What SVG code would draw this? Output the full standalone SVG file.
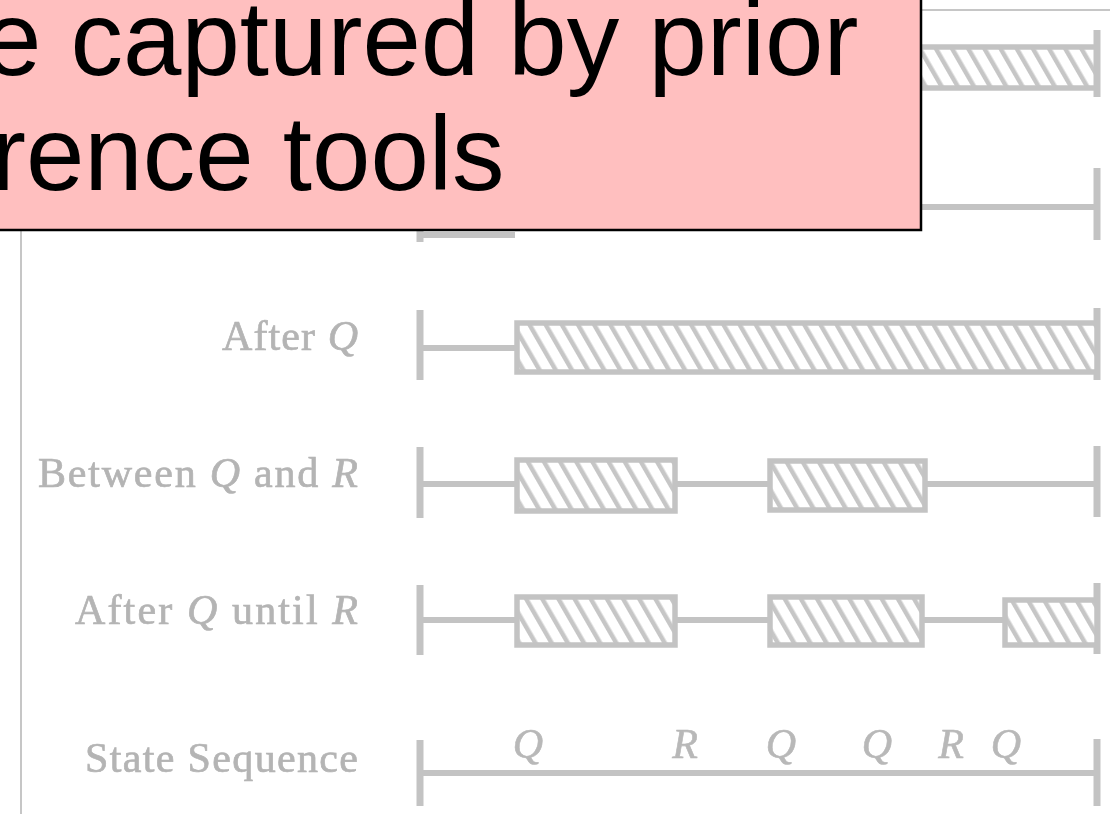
<svg xmlns="http://www.w3.org/2000/svg" width="1110" height="814" viewBox="0 0 1110 814">
  <style>
    .frame { stroke: #c6c6c6; stroke-width: 2; fill: none; }
    .line { stroke: #c3c3c3; stroke-width: 6; fill: none; }
    .cap { stroke: #c3c3c3; stroke-width: 7; fill: none; }
    .bar { fill: url(#hatch); stroke: #c3c3c3; stroke-width: 5.5; }
    .label { font-family: "Liberation Serif", "DejaVu Serif", serif; font-size: 42px; fill: #b4b4b4; stroke: #b4b4b4; stroke-width: 0.7; text-anchor: end; }
    .ev { font-family: "Liberation Serif", "DejaVu Serif", serif; font-size: 42px; font-style: italic; fill: #b8b8b8; stroke: #b8b8b8; stroke-width: 0.6; text-anchor: middle; }
    .it { font-style: italic; }
    .soft { filter: url(#soften); }
    .callout { fill: #ffbfbf; stroke: #000; stroke-width: 2.5; }
    .callout-text { font-family: "Liberation Sans", Arial, sans-serif; font-size: 105px; fill: #000; }
  </style>
  <defs>
    <pattern id="hatch" patternUnits="userSpaceOnUse" width="14" height="10" patternTransform="rotate(-30)">
      <rect x="0" y="0" width="14" height="10" fill="#ffffff"/>
      <rect x="0" y="0" width="4.5" height="10" fill="#c6c6c6"/>
    </pattern>
    <filter id="soften" x="-2%" y="-2%" width="104%" height="104%">
      <feGaussianBlur stdDeviation="0.6"/>
    </filter>
  </defs>

  <rect width="1110" height="814" fill="#ffffff"/>

  <!-- page frame -->
  <g id="frame">
    <path class="frame" d="M21 228 V814"/>
    <path class="frame" d="M920 10 H1110"/>
  </g>

  <g class="soft">
    <!-- scope rows -->
    <g id="row-global">
      <rect class="bar" x="424" y="47" width="673" height="41"/>
      <path class="cap" d="M1097 30 V97"/>
    </g>

    <g id="row-before">
      <path class="cap" d="M420 170 V242"/>
      <path class="cap" d="M1097 168 V240"/>
      <path class="line" d="M423 235 H515"/>
    </g>

    <g id="row-after">
      <text class="label" x="358" y="350" textLength="136">After <tspan class="it">Q</tspan></text>
      <path class="cap" d="M420 310 V380"/>
      <path class="cap" d="M1097 308 V380"/>
      <rect class="bar" x="517" y="323" width="580" height="49"/>
    </g>

    <g id="row-between">
      <text class="label" x="358" y="487" textLength="320">Between <tspan class="it">Q</tspan> and <tspan class="it">R</tspan></text>
      <path class="cap" d="M420 447 V518"/>
      <path class="cap" d="M1097 446 V517"/>
      <rect class="bar" x="517" y="460" width="158" height="51"/>
      <rect class="bar" x="770" y="461" width="155" height="49"/>
    </g>

    <g id="row-after-until">
      <text class="label" x="358" y="624" textLength="283">After <tspan class="it">Q</tspan> until <tspan class="it">R</tspan></text>
      <path class="cap" d="M420 585 V655"/>
      <path class="cap" d="M1097 583 V654"/>
      <rect class="bar" x="517" y="597" width="158" height="48"/>
      <rect class="bar" x="770" y="597" width="152" height="48"/>
      <rect class="bar" x="1005" y="600" width="92" height="45"/>
    </g>

    <g id="row-sequence">
      <text class="label" x="358" y="772" textLength="273">State Sequence</text>
      <path class="cap" d="M420 740 V806"/>
      <path class="cap" d="M1097 739 V806"/>
      <text class="ev" x="528" y="758">Q</text>
      <text class="ev" x="685" y="758">R</text>
      <text class="ev" x="781" y="758">Q</text>
      <text class="ev" x="877" y="758">Q</text>
      <text class="ev" x="951" y="758">R</text>
      <text class="ev" x="1006" y="758">Q</text>
    </g>

    <!-- connecting timelines -->
    <g id="connectors">
      <path class="line" d="M920 207 H1097"/>
      <path class="line" d="M420 348 H517"/>
      <path class="line" d="M420 484 H517 M675 484 H770 M925 484 H1097"/>
      <path class="line" d="M420 620 H517 M675 620 H770 M922 620 H1005"/>
      <path class="line" d="M420 773 H1097"/>
    </g>
  </g>

  <!-- callout -->
  <g id="callout">
    <rect class="callout" x="-3" y="-3" width="924" height="233"/>
    <text class="callout-text" x="-17" y="75">e captured by prior</text>
    <text class="callout-text" x="-9" y="190">rence tools</text>
  </g>
</svg>
